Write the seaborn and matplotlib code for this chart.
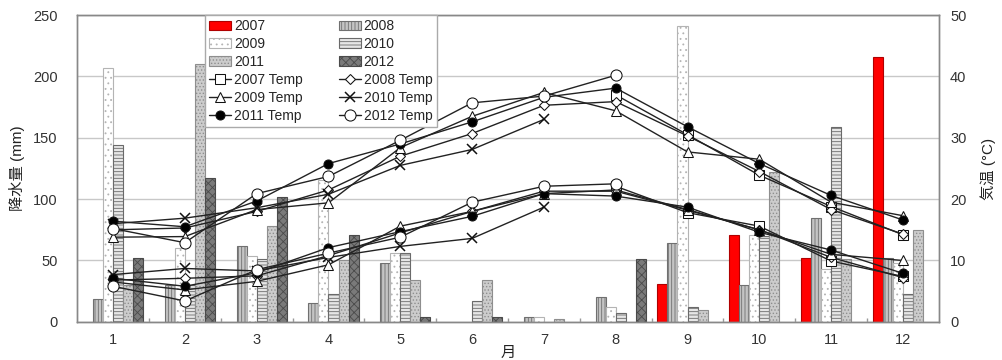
import matplotlib
matplotlib.use('Agg')
import matplotlib.pyplot as plt
import numpy as np
import pandas as pd
import seaborn as sns

nan = np.nan

# months / years
months = ['1', '2', '3', '4', '5', '6', '7', '8', '9', '10', '11', '12']
years = ['2007', '2008', '2009', '2010', '2011', '2012']

# monthly rainfall (mm)
rain_2007 = [nan, nan, nan, nan, nan, nan, nan, nan, 31, 71, 52, 216]
rain_2008 = [19, 30, 62, 15, 48, nan, 4, 20, 64, 30, 85, 52]
rain_2009 = [207, 60, 54, 116, 56, nan, 4, 12, 241, 71, 43, 48]
rain_2010 = [144, 30, 51, 23, 56, 17, nan, 7, 12, 70, 159, 23]
rain_2011 = [30, 210, 78, 50, 34, 34, 2, nan, 10, 122, 51, 75]
rain_2012 = [52, 117, 102, 71, 4, 4, nan, 51, nan, nan, nan, nan]

# temperatures (deg C): upper line = max, lower line = min
tmax_2007 = [nan, nan, nan, nan, nan, nan, nan, 37.0, 30.5, 23.9, 18.8, 14.2]
tmin_2007 = [nan, nan, nan, nan, nan, nan, nan, 22.1, 17.8, 15.6, 9.9, 7.4]
tmax_2008 = [15.0, 15.3, 18.0, 21.5, 27.0, 30.7, 35.3, 35.9, 30.3, 24.5, 18.3, 14.3]
tmin_2008 = [6.8, 7.1, 7.5, 10.8, 14.5, 18.0, 21.3, 21.3, 18.2, 15.0, 10.5, 7.2]
tmax_2009 = [13.8, 13.9, 18.3, 19.4, 28.4, 33.5, 37.4, 34.4, 27.7, 26.5, 19.5, 17.3]
tmin_2009 = [6.5, 5.2, 6.6, 9.3, 15.6, 18.0, 20.9, 21.5, 18.3, 15.0, 11.0, 10.0]
tmax_2010 = [16.0, 16.9, 18.6, 20.8, 25.5, 28.1, 33.0, nan, nan, nan, nan, nan]
tmin_2010 = [7.7, 8.7, 8.3, 10.5, 12.3, 13.6, 18.7, nan, nan, nan, nan, nan]
tmax_2011 = [16.4, 15.5, 19.7, 25.8, 29.0, 32.6, 36.6, 38.1, 31.8, 25.8, 20.6, 16.6]
tmin_2011 = [7.1, 5.8, 8.0, 12.1, 14.7, 17.2, 20.9, 20.5, 18.7, 14.6, 11.7, 7.9]
tmax_2012 = [15.2, 12.9, 20.9, 23.7, 29.6, 35.7, 36.8, 40.2, nan, nan, nan, nan]
tmin_2012 = [5.8, 3.4, 8.5, 11.2, 13.8, 19.5, 22.1, 22.5, nan, nan, nan, nan]

rain = [rain_2007, rain_2008, rain_2009, rain_2010, rain_2011, rain_2012]
tmax = [tmax_2007, tmax_2008, tmax_2009, tmax_2010, tmax_2011, tmax_2012]
tmin = [tmin_2007, tmin_2008, tmin_2009, tmin_2010, tmin_2011, tmin_2012]

### long-form frame for the bars
df_rain = pd.DataFrame({
    'month': months * len(years),
    'year': np.repeat(years, len(months)),
    'rain': np.concatenate(rain),
}).dropna()

sns.set_theme(style='white')
plt.rcParams['font.family'] = ['Liberation Sans', 'Noto Sans CJK JP']
plt.rcParams['hatch.linewidth'] = 0.6

fig = plt.figure(figsize=(10.02, 3.6), dpi=100)
ax = fig.add_axes([0.077, 0.106, 0.86, 0.852])

sns.barplot(data=df_rain, x='month', y='rain', hue='year', order=months,
            hue_order=years, width=0.84, ax=ax, legend=False, errorbar=None,
            saturation=1)

### bar styles per year: facecolor, edgecolor (also hatch colour), hatch
bar_styles = {
    '2007': ('#ff0000', '#b00000', None),
    '2008': ('#c4c4c4', '#707070', '|||||'),
    '2009': ('#ffffff', '#b4b4b4', '...'),
    '2010': ('#e6e6e6', '#6a6a6a', '-----'),
    '2011': ('#cccccc', '#8e8e8e', '.....'),
    '2012': ('#7a7a7a', '#4a4a4a', 'xxxx'),
}
bar_handles = {}
for yr, cont in zip(years, ax.containers):
    fc, ec, hatch = bar_styles[yr]
    for p in cont.patches:
        p.set_facecolor(fc)
        p.set_edgecolor(ec)
        p.set_linewidth(0.8)
        if hatch:
            p.set_hatch(hatch)
    bar_handles[yr] = cont

ax.set_ylim(0, 250)
ax.set_yticks([0, 50, 100, 150, 200, 250])
ax.set_xlim(-0.5, 11.5)
ax.yaxis.grid(True, color='#c8c8c8', linewidth=1)
ax.set_axisbelow(True)
ax.set_xlabel('月', fontsize=11, color='#222222', labelpad=-1)
ax.set_ylabel('降水量 (mm)', fontsize=11, color='#222222', labelpad=6)
ax.set_xticks(range(12))
ax.set_xticklabels(months)
ax.set_xticks(np.arange(0.5, 11.5, 1), minor=True)
ax.tick_params(axis='x', which='major', length=0, labelsize=10.5, colors='#333333', pad=8)
ax.tick_params(axis='x', which='minor', length=3, direction='in', color='#999999', bottom=True)
ax.tick_params(axis='y', length=0, labelsize=10.5, colors='#333333', pad=14)

### temperature lines on the right axis
ax2 = ax.twinx()
line_styles = {
    '2007': dict(marker='s', markersize=6.5, markerfacecolor='white'),
    '2008': dict(marker='D', markersize=5, markerfacecolor='white'),
    '2009': dict(marker='^', markersize=7, markerfacecolor='white'),
    '2010': dict(marker='x', markersize=7, markeredgewidth=1.1),
    '2011': dict(marker='o', markersize=6.5, markerfacecolor='black'),
    '2012': dict(marker='o', markersize=8, markerfacecolor='white'),
}
pos = np.arange(len(months))
line_handles = {}
for yr, hi, lo in zip(years, tmax, tmin):
    st = line_styles[yr]
    for series in (hi, lo):
        s = pd.Series(series, index=pos).dropna()
        sns.lineplot(x=s.index, y=s.values, ax=ax2, color='#222222',
                     linewidth=1, markeredgecolor='#111111', **st)
    line_handles[yr] = ax2.lines[-1]

ax2.set_ylim(0, 50)
ax2.set_yticks([0, 10, 20, 30, 40, 50])
ax2.set_ylabel('気温 (°C)', fontsize=11, color='#222222', labelpad=10)
ax2.tick_params(axis='y', length=0, labelsize=10.5, colors='#333333', pad=8)

for a in (ax, ax2):
    for sp in a.spines.values():
        sp.set_color('#888888')
        sp.set_linewidth(1)

### legend, column-major so it reads 2007 | 2008 row by row
left_col = ['2007', '2009', '2011']
right_col = ['2008', '2010', '2012']
handles = ([bar_handles[y] for y in left_col] + [line_handles[y] for y in left_col]
           + [bar_handles[y] for y in right_col] + [line_handles[y] for y in right_col])
labels = (left_col + [y + ' Temp' for y in left_col]
          + right_col + [y + ' Temp' for y in right_col])
leg = ax2.legend(handles, labels, ncol=2, loc='upper left',
                 bbox_to_anchor=(0.148, 1.0), borderaxespad=0, fontsize=10,
                 frameon=True, fancybox=False, edgecolor='#aaaaaa',
                 handlelength=1.6, handletextpad=0.2, labelspacing=0.28,
                 columnspacing=2.6, borderpad=0.3, framealpha=1)
leg.get_frame().set_linewidth(1)

fig.savefig('out.png', dpi=100)
